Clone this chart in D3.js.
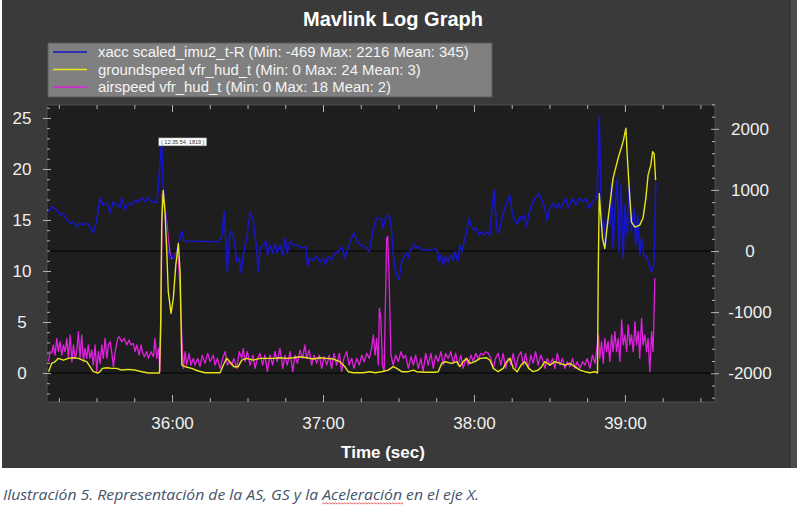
<!DOCTYPE html>
<html>
<head>
<meta charset="utf-8">
<script src="https://cdn.jsdelivr.net/npm/d3@7"></script>
<style>
  body { margin: 0; background: #fff; }
  svg { display: block; }
</style>
</head>
<body>
<svg id="chart" width="797" height="512"></svg>
<script>
// time = seconds after 12:00:00
const XACC = [
  [2110.9,642],[2112.2,724],[2114.2,670],[2115.5,588],[2116.7,621],[2118.2,507],[2119.5,458],[2120.7,474],[2122.1,397],[2123.4,458],
  [2124.6,425],[2126.1,458],[2127.4,397],[2128.7,294],[2130.1,507],[2131.4,866],[2132.6,752],[2134.1,784],[2135.4,621],[2136.6,801],
  [2138,752],[2139.3,719],[2140.1,866],[2141.3,670],[2142.5,784],[2144,752],[2145.3,833],[2146.5,801],[2148,866],[2149.3,801],
  [2150.5,882],[2151.9,801],[2153.9,801],[2154.4,964],[2155.2,1438],[2155.9,1819],[2156.4,1078],[2157.2,752],[2157.9,310],[2158.4,-16],
  [2159.2,-114],[2159.9,-65],[2160.4,-114],[2161.5,-65],[2162.4,98],[2163.9,327],[2164.8,163],[2178.4,152],[2179.7,212],[2180.7,654],
  [2181.5,98],[2182,-338],[2183,327],[2184.1,261],[2185,98],[2185.7,-175],[2186.7,-114],[2187.4,-359],[2188.3,-65],[2189.7,212],
  [2191,642],[2192.3,507],[2193.7,-11],[2194.3,-338],[2195,49],[2196.3,98],[2197.3,163],[2197.9,-65],[2198.9,98],[2200,-33],
  [2200.9,114],[2201.8,-33],[2202.9,98],[2204,-65],[2204.9,212],[2205.8,-33],[2206.9,152],[2208.2,98],[2209.8,98],[2211.5,49],
  [2213.2,70],[2213.9,-257],[2214.5,-114],[2216.1,-147],[2217.5,-93],[2218.8,-175],[2220.1,-114],[2220.8,-229],[2222.1,-93],[2223.4,-147],
  [2224.8,-33],[2226.1,-11],[2227.4,70],[2228.7,-114],[2230,70],[2231.4,212],[2232.3,294],[2233.4,180],[2234.7,98],[2236.7,70],
  [2238.4,-11],[2239.7,315],[2241.3,539],[2242,539],[2243.3,507],[2243.9,376],[2244.6,507],[2245.7,588],[2246.6,560],[2247.3,315],
  [2247.9,-65],[2248.6,-278],[2249.3,-392],[2250.2,-469],[2251.3,-175],[2252.6,-65],[2253.2,-38],[2253.9,-114],[2254.6,16],[2255.5,49],
  [2256.3,114],[2257.2,49],[2258.1,70],[2259.2,16],[2263.2,16],[2264.5,33],[2265.6,-11],[2266.1,-175],[2266.9,-65],[2267.8,-229],
  [2268.7,-93],[2269.8,-175],[2270.8,-65],[2271.8,-147],[2272.4,-11],[2273.5,-175],[2274.4,98],[2275.3,-11],[2276.1,152],[2277.1,315],
  [2278,534],[2279.1,397],[2280.1,343],[2281.1,371],[2282,261],[2283,315],[2284.1,261],[2285,315],[2286.3,261],[2287.3,752],
  [2288,997],[2289,371],[2289.9,289],[2291,507],[2292.6,752],[2294.3,915],[2295.2,616],[2296.3,479],[2297.3,453],[2298.3,560],
  [2298.9,507],[2300,588],[2300.9,397],[2301.8,588],[2302.9,752],[2304.2,861],[2305.8,943],[2306.9,833],[2308.2,698],[2309.1,507],
  [2310.2,724],[2311.5,779],[2312.6,698],[2313.5,779],[2314.4,698],[2315.5,779],[2316.5,861],[2317.5,698],[2318.4,806],[2319.4,861],
  [2320.5,752],[2321.8,861],[2323.2,806],[2324.5,861],[2325.8,698],[2327.1,806],[2328.5,861],[2329,969],[2329.8,2216],[2330.4,1025],
  [2331.1,152],[2331.6,479],[2332.4,98],[2333.2,588],[2334,425],[2334.7,1132],[2335.3,44],[2336.1,752],[2336.9,1188],[2337.7,-11],
  [2338.4,1078],[2339.3,-119],[2340,752],[2340.9,261],[2341.7,1160],[2342.6,315],[2343.6,698],[2344.3,98],[2345.1,588],[2345.9,-65],
  [2346.6,208],[2347.5,-65],[2348.6,-93],[2349.6,-229],[2350.6,-338],[2351.5,-229],[2352.3,1132]
];

const GROUNDSPEED = [
  [2110.9,0.13],[2112.2,0.95],[2113.5,1.11],[2114.8,1.44],[2116.8,1.27],[2118.8,1.44],[2120.8,1.5],[2122.8,1.44],[2124.4,1.27],[2126.1,1.11],
  [2127.4,0.62],[2128.7,0.13],[2130.5,0],[2131.4,0.13],[2132.3,0.46],[2134.1,0.52],[2136,0.46],[2138,0.46],[2140,0.29],[2142.6,0.36],
  [2145.3,0.29],[2148,0.13],[2150.6,0],[2155,0],[2155.5,5.03],[2155.9,14.8],[2156.5,17.9],[2157.2,15.8],[2157.9,11.9],[2158.5,7.97],
  [2159.6,5.85],[2160.5,7.32],[2161.5,10.6],[2162.5,12.7],[2163.2,9.9],[2163.9,0.78],[2165.2,0.62],[2167.8,0.46],[2170.4,0.2],[2173.1,0.03],
  [2179.1,0.03],[2180.4,0.78],[2181.7,1.44],[2183,1.11],[2184.6,0.62],[2186.3,0.62],[2187.7,1.27],[2189.7,1.44],[2192.3,1.27],[2195,1.44],
  [2197.6,1.44],[2200.2,1.44],[2202.9,1.5],[2205.6,1.44],[2208.2,1.5],[2210.9,1.6],[2213.5,1.5],[2216.1,1.37],[2218.8,1.5],[2221.5,1.44],
  [2224.1,1.37],[2226.7,1.11],[2228.7,0.62],[2230,0.13],[2232,0.03],[2236,0.03],[2238.7,0.13],[2240.7,0.03],[2243.3,0.13],[2245.9,0.29],
  [2247.9,0.62],[2249.3,0.46],[2251.3,0.13],[2253.9,0.13],[2255.9,0.29],[2257.2,0.13],[2260.5,0.07],[2264.5,0.07],[2265.8,0.13],[2267.2,0.95],
  [2268.5,1.11],[2271.1,0.95],[2273.1,1.11],[2274.4,0.62],[2275.7,1.11],[2277.1,1.44],[2278.4,0.95],[2280.4,1.11],[2282.4,1.44],[2285,1.5],
  [2286.3,1.27],[2287.7,0.46],[2289.6,0.13],[2291.6,0.46],[2293,1.11],[2294.3,1.44],[2295.6,0.46],[2297.2,0.13],[2298.7,0.78],[2300.2,1.11],
  [2301.8,0.46],[2303.5,0.13],[2305.5,0.29],[2306.9,0.62],[2308.2,1.11],[2310.2,0.78],[2312.2,1.11],[2314.2,0.95],[2316.1,0.78],[2318.1,0.95],
  [2320.1,0.62],[2322.1,0.29],[2324.1,0.13],[2326.1,0.03],[2328.1,0.13],[2329.1,0],[2329.4,9.93],[2329.8,17.6],[2330.3,15.8],[2331.1,13.2],
  [2332,12.2],[2332.7,13.85],[2334,16.5],[2335.3,19.1],[2337.3,21.05],[2339.3,22.7],[2340.4,24],[2340.9,21.4],[2341.7,18.1],[2342.6,14.8],
  [2344,14.3],[2345.9,14.5],[2347.2,15.2],[2348.3,17.1],[2349.2,19.4],[2350.3,20.4],[2351,21.7],[2351.6,21.5],[2352.2,18.9]
];

const AIRSPEED = [
  [2110.9,1.11],[2111.5,2.09],[2112.2,1.96],[2112.8,2.75],[2113.5,1.76],[2114.2,3.4],[2114.8,2.09],[2115.5,3.07],[2116.2,1.76],[2116.8,2.75],
  [2117.5,2.09],[2118.2,3.4],[2118.8,1.44],[2119.5,3.73],[2120.2,1.11],[2120.8,2.75],[2121.5,1.44],[2122.1,2.09],[2122.8,4.05],[2123.4,1.44],
  [2124.1,3.73],[2124.8,1.11],[2125.4,2.42],[2126.1,1.44],[2126.7,2.75],[2127.4,1.44],[2128.1,2.25],[2128.7,0.78],[2129.4,2.75],[2130.1,0.13],
  [2130.7,2.09],[2131.4,0.95],[2132.1,2.75],[2132.7,1.44],[2133.4,3.4],[2134.1,1.44],[2134.7,2.75],[2135.4,3.07],[2136,2.09],[2136.7,0.62],
  [2137.4,2.09],[2138.4,3.4],[2138.9,3.56],[2140,3.07],[2141,3.4],[2142,2.75],[2142.9,3.24],[2143.7,2.75],[2144.6,2.91],[2145.3,2.09],
  [2146,2.75],[2146.9,1.76],[2147.7,2.75],[2148.2,2.09],[2149,1.6],[2149.9,2.09],[2150.6,1.44],[2151.7,2.09],[2152.6,1.6],[2153.2,3.4],
  [2153.9,1.44],[2154.6,2.42],[2155.2,0.13],[2155.6,5.03],[2156.1,17.6],[2156.9,16.8],[2157.9,14.8],[2158.5,13.2],[2159.2,11.7],[2159.9,11.2],
  [2160.9,11.4],[2161.9,11.9],[2162.5,11.2],[2163.2,8.3],[2163.9,3.4],[2164.5,0.46],[2165.2,2.09],[2165.8,0.78],[2166.8,1.93],[2167.5,0.78],
  [2168.5,1.44],[2169.1,0.78],[2170.2,1.44],[2171.1,0.62],[2172,1.76],[2173.1,0.95],[2174.2,1.93],[2175.1,1.11],[2176.4,1.76],[2177.1,0.78],
  [2178,1.44],[2179.1,0.46],[2180.1,1.44],[2181.1,2.09],[2182,0.78],[2182.8,1.11],[2183.7,0.78],[2184.6,1.44],[2185.7,0.46],[2186.7,2.09],
  [2187.7,1.44],[2188.3,2.42],[2189,1.11],[2189.9,2.09],[2191,0.78],[2192.1,1.76],[2193,0.46],[2193.9,1.44],[2195,1.93],[2196,0.78],
  [2196.9,1.76],[2197.9,0.13],[2198.9,1.76],[2200,0.78],[2200.9,2.09],[2201.8,1.11],[2202.9,2.42],[2204,0.46],[2204.9,1.76],[2205.8,0.78],
  [2206.9,2.09],[2208,0.13],[2208.9,1.76],[2209.8,0.95],[2210.9,2.25],[2211.9,1.44],[2212.8,2.75],[2213.5,1.44],[2214.5,2.25],[2215.5,0.78],
  [2216.4,1.76],[2217.5,0.95],[2218.5,1.76],[2219.5,0.46],[2220.4,1.6],[2221.5,0.78],[2222.5,1.76],[2223.4,0.46],[2224.4,1.93],[2225.4,0.78],
  [2226.5,1.93],[2227.4,0.13],[2228.3,1.44],[2229.4,2.09],[2230.4,0.78],[2231.4,1.44],[2232.3,0.46],[2233.4,1.44],[2234.4,0.78],[2235.4,1.76],
  [2236.3,1.11],[2237.4,1.93],[2238.4,1.44],[2239.3,2.42],[2240,3.73],[2240.7,1.76],[2241.3,3.4],[2242,0.78],[2242.4,6.34],[2243,5.36],
  [2243.6,0.78],[2244.3,0.13],[2245.3,13.2],[2245.7,13.4],[2246.2,9.93],[2247,1.76],[2247.9,0.78],[2248.9,1.76],[2249.9,1.11],[2251,2.09],
  [2251.9,1.44],[2252.8,1.76],[2253.9,0.46],[2255,1.6],[2255.9,0.78],[2256.8,1.76],[2257.9,0.46],[2258.9,1.44],[2259.8,0.13],[2260.8,1.93],
  [2261.8,0.78],[2262.9,1.93],[2263.8,0.46],[2264.8,1.76],[2265.8,1.11],[2266.9,2.09],[2267.8,0.78],[2268.7,1.93],[2269.8,1.44],[2270.8,2.09],
  [2271.8,0.95],[2272.7,1.93],[2273.7,0.78],[2274.8,1.76],[2275.7,0.46],[2276.7,1.44],[2277.7,0.78],[2278.8,1.76],[2279.7,1.11],[2280.7,1.93],
  [2281.7,1.44],[2282.8,1.93],[2283.7,1.76],[2284.6,2.09],[2285.7,1.93],[2286.7,1.44],[2287.7,0.46],[2288.6,1.44],[2289.6,1.93],[2290.7,0.78],
  [2291.6,1.93],[2292.6,0.46],[2293.6,1.44],[2294.7,0.78],[2295.6,1.93],[2296.6,0.46],[2297.6,1.6],[2298.7,2.09],[2299.6,0.78],[2300.5,1.93],
  [2301.6,0.46],[2302.6,1.76],[2303.5,0.95],[2304.5,2.09],[2305.5,0.78],[2306.6,1.76],[2307.5,1.11],[2308.2,0.46],[2309.1,1.44],[2310.2,0.78],
  [2311.3,1.44],[2312.2,0.46],[2313.1,1.93],[2314.2,0.78],[2315.2,1.44],[2316.1,0.46],[2317.1,1.11],[2318.1,0.62],[2319.2,1.44],[2320.1,0.46],
  [2321,1.11],[2322.1,0.46],[2323.2,1.11],[2324.1,0.78],[2325,1.44],[2326.1,0.46],[2327.1,1.76],[2328.1,0.95],[2329,2.75],[2329.5,3.73],
  [2330,1.44],[2330.7,3.07],[2331.4,0.95],[2332,3.4],[2332.7,2.09],[2333.3,3.07],[2334,1.11],[2334.7,3.73],[2335.3,2.09],[2336,4.05],
  [2336.7,2.09],[2337.3,3.4],[2338,1.11],[2338.7,5.2],[2339.3,2.75],[2340,3.73],[2340.7,2.09],[2341.3,4.71],[2342,2.75],[2342.6,3.73],
  [2343.3,2.09],[2344,5.03],[2344.6,2.75],[2345.3,4.05],[2345.9,1.44],[2346.6,5.36],[2347.2,2.75],[2347.9,3.73],[2348.6,2.09],[2349.2,3.4],
  [2349.9,0.13],[2350.6,4.05],[2351.2,2.09],[2351.9,9.28]
];

const LEGEND_LABELS = [
  'xacc scaled_imu2_t-R (Min: -469 Max: 2216 Mean: 345)',
  'groundspeed vfr_hud_t (Min: 0 Max: 24 Mean: 3)',
  'airspeed vfr_hud_t (Min: 0 Max: 18 Mean: 2)',
];
const LEFT_TICKS = [0, 5, 10, 15, 20, 25];
const RIGHT_TICKS = [-2000, -1000, 0, 1000, 2000];
const TIME_TICKS = [2160, 2220, 2280, 2340];
const TOOLTIP_POINT = [2155.9, 1819];
const TOOLTIP_TEXT = '( 12:35:54, 1819 )';
const CAPTION_START = 'Ilustración 5. Representación de la AS, GS y la ';
const CAPTION_WORD = 'Aceleración';
const CAPTION_END = ' en el eje X.';

const SVG = d3.select('#chart');
const FONT = "'Liberation Sans', Arial, sans-serif";
const P = { left: 47, right: 715, top: 105, bottom: 402 };

const X = d3.scaleLinear().domain([2110.3, 2375.8]).range([P.left, P.right]);
const Y_LEFT = d3.scaleLinear().domain([-2.84, 26.27]).range([P.bottom, P.top]);
const Y_RIGHT = d3.scaleLinear().domain([-2471, 2390]).range([P.bottom, P.top]);

const COLORS = ['#1616c4', '#e6e61a', '#e021e0'];

// background
SVG.append('rect').attr('x', 2).attr('y', 0).attr('width', 788).attr('height', 468).attr('fill', '#3a3a3a');
SVG.append('rect').attr('x', 790).attr('y', 0).attr('width', 7).attr('height', 468).attr('fill', '#4c4c4c');
SVG.append('line').attr('x1', 790).attr('x2', 790).attr('y1', 0).attr('y2', 468).attr('stroke', '#2a2a2a');

SVG.append('text')
  .text('Mavlink Log Graph')
  .attr('x', 393)
  .attr('y', 26)
  .attr('text-anchor', 'middle')
  .style('font-family', FONT)
  .style('font-weight', 'bold')
  .style('font-size', '20px')
  .style('fill', '#ffffff');

// legend
const LEG = SVG.append('g');
LEG.append('rect')
  .attr('x', 48).attr('y', 43).attr('width', 444).attr('height', 54)
  .attr('fill', '#808080').attr('stroke', '#5a5a5a');
LEGEND_LABELS.forEach((label, i) => {
  const yy = 52 + i * 17.5;
  LEG.append('line')
    .attr('x1', 53).attr('x2', 87).attr('y1', yy).attr('y2', yy)
    .attr('stroke', COLORS[i]).attr('stroke-width', 1.6);
  LEG.append('text')
    .text(label)
    .attr('x', 98).attr('y', yy)
    .attr('dy', '0.35em')
    .style('font-family', FONT)
    .style('font-size', '14.9px')
    .style('fill', '#f4f4f4');
});

// plot area
SVG.append('rect')
  .attr('x', P.left).attr('y', P.top)
  .attr('width', P.right - P.left).attr('height', P.bottom - P.top)
  .attr('fill', '#1e1e1e').attr('stroke', '#555').attr('stroke-width', 0.8);

SVG.append('clipPath').attr('id', 'clip')
  .append('rect')
  .attr('x', P.left).attr('y', P.top)
  .attr('width', P.right - P.left).attr('height', P.bottom - P.top);

// zero lines
[Y_LEFT(0), Y_RIGHT(0)].forEach((yy) => {
  SVG.append('line')
    .attr('x1', P.left).attr('x2', P.right).attr('y1', yy).attr('y2', yy)
    .attr('stroke', '#000').attr('stroke-width', 1);
});

// ticks
const TICK_COLOR = '#b4b4b4';
function tickGroup(axis, tx, ty) {
  const g = SVG.append('g').attr('transform', `translate(${tx},${ty})`).call(axis);
  g.select('.domain').remove();
  g.selectAll('line').attr('stroke', TICK_COLOR);
  g.selectAll('text').remove();
  return g;
}
const minorTimes = d3.range(2115, 2376, 15).filter((t) => t % 60 !== 0);
tickGroup(d3.axisBottom(X).tickValues(minorTimes).tickSize(-4), 0, P.bottom);
tickGroup(d3.axisBottom(X).tickValues(TIME_TICKS).tickSize(-7), 0, P.bottom);
tickGroup(d3.axisTop(X).tickValues(minorTimes).tickSize(-4), 0, P.top);
tickGroup(d3.axisTop(X).tickValues(TIME_TICKS).tickSize(-7), 0, P.top);

const minorLeft = d3.range(-2, 27, 1).filter((v) => v % 5 !== 0);
tickGroup(d3.axisLeft(Y_LEFT).tickValues(minorLeft).tickSize(3), P.left + 3, 0);
tickGroup(d3.axisLeft(Y_LEFT).tickValues(LEFT_TICKS).tickSize(8), P.left + 4, 0);

const minorRight = d3.range(-2400, 2401, 200).filter((v) => v % 1000 !== 0);
tickGroup(d3.axisRight(Y_RIGHT).tickValues(minorRight).tickSize(3), P.right - 3, 0);
tickGroup(d3.axisRight(Y_RIGHT).tickValues(RIGHT_TICKS).tickSize(8), P.right - 4, 0);

// series
const PLOT_G = SVG.append('g').attr('clip-path', 'url(#clip)');
const lineR = d3.line().x((d) => X(d[0])).y((d) => Y_RIGHT(d[1]));
const lineL = d3.line().x((d) => X(d[0])).y((d) => Y_LEFT(d[1]));

PLOT_G.append('path').attr('d', lineL(AIRSPEED))
  .attr('fill', 'none').attr('stroke', COLORS[2]).attr('stroke-width', 1.3).attr('stroke-linejoin', 'round');
PLOT_G.append('path').attr('d', lineR(XACC))
  .attr('fill', 'none').attr('stroke', COLORS[0]).attr('stroke-width', 1.6).attr('stroke-linejoin', 'round');
PLOT_G.append('path').attr('d', lineL(GROUNDSPEED))
  .attr('fill', 'none').attr('stroke', COLORS[1]).attr('stroke-width', 1.4).attr('stroke-linejoin', 'round');

// tick labels
function labelGroup(axis, tx, ty) {
  const g = SVG.append('g').attr('transform', `translate(${tx},${ty})`).call(axis);
  g.select('.domain').remove();
  g.selectAll('line').remove();
  g.selectAll('text')
    .style('font-family', FONT)
    .style('font-size', '17px')
    .attr('fill', '#f0f0f0');
  return g;
}
const plainNum = (v) => String(v);
labelGroup(d3.axisLeft(Y_LEFT).tickValues(LEFT_TICKS).tickFormat(plainNum).tickSize(0), P.left, 0)
  .selectAll('text').attr('x', -25).attr('text-anchor', 'middle');
labelGroup(d3.axisRight(Y_RIGHT).tickValues(RIGHT_TICKS).tickFormat(plainNum).tickSize(0), P.right, 0)
  .selectAll('text').attr('x', 35).attr('text-anchor', 'middle');
const fmtTime = (t) => `${Math.floor(t / 60) % 60}:${String(t % 60).padStart(2, '0')}`;
labelGroup(d3.axisBottom(X).tickValues(TIME_TICKS).tickFormat(fmtTime).tickSize(0), 0, P.bottom)
  .selectAll('text').attr('y', 21).attr('dy', '0.35em');

SVG.append('text')
  .text('Time (sec)')
  .attr('x', 383).attr('y', 452).attr('dy', '0.35em')
  .attr('text-anchor', 'middle')
  .style('font-family', FONT)
  .style('font-weight', 'bold')
  .style('font-size', '17px')
  .style('fill', '#ffffff');

// point tooltip
const TIP = SVG.append('g')
  .attr('transform', `translate(${X(TOOLTIP_POINT[0]) - 3},${Y_RIGHT(TOOLTIP_POINT[1]) - 2})`);
TIP.append('rect').attr('width', 48).attr('height', 8)
  .attr('fill', '#fff').attr('stroke', '#777').attr('stroke-width', 0.5);
TIP.append('text').text(TOOLTIP_TEXT)
  .attr('x', 24).attr('y', 4).attr('dy', '0.35em')
  .attr('text-anchor', 'middle')
  .style('font-family', FONT).style('font-size', '5.5px').style('fill', '#333');

// caption
const CAP = SVG.append('text')
  .attr('x', 3).attr('y', 500)
  .attr('textLength', 476).attr('lengthAdjust', 'spacingAndGlyphs')
  .style('font-family', "'Liberation Sans Narrow', 'Open Sans', sans-serif")
  .style('font-style', 'italic')
  .style('font-size', '15px')
  .style('fill', '#44546a');
CAP.append('tspan').text(CAPTION_START);
CAP.append('tspan').text(CAPTION_WORD);
CAP.append('tspan').text(CAPTION_END);

const startIdx = CAPTION_START.length;
const endIdx = startIdx + CAPTION_WORD.length - 1;
const sx = CAP.node().getStartPositionOfChar(startIdx).x;
const ex = CAP.node().getEndPositionOfChar(endIdx).x;
const squiggle = d3.path();
squiggle.moveTo(sx, 504);
for (let px = sx, k = 0; px < ex; px += 1.5, k++) {
  squiggle.lineTo(px + 1.5, k % 2 === 0 ? 502.8 : 504);
}
SVG.append('path').attr('d', squiggle.toString())
  .attr('fill', 'none').attr('stroke', '#e02020').attr('stroke-width', 0.7);
</script>
</body>
</html>
